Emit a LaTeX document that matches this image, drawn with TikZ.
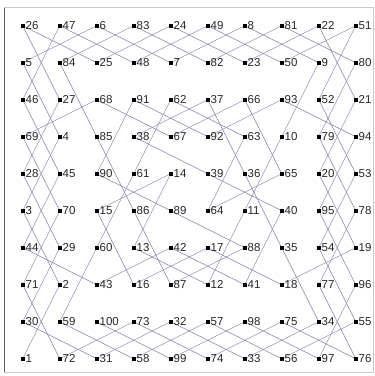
\documentclass[tikz,border=0pt]{standalone}
\usepackage{fontspec}
\setmainfont{Liberation Sans}
\usetikzlibrary{backgrounds}
\definecolor{tourline}{RGB}{135,135,175}
\definecolor{framelight}{RGB}{200,200,200}
\definecolor{framedark}{RGB}{90,90,90}
\tikzset{
  mk/.style={fill=black, draw=none, rectangle, minimum size=4pt, inner sep=0pt},
  lbl/.style={anchor=west, inner sep=0pt, font=\fontsize{11.5pt}{12pt}\selectfont, text=black!85},
  tour/.style={draw=tourline, line width=0.5pt},
}
\begin{document}
\begin{tikzpicture}[x=1pt,y=-1pt]
\useasboundingbox (0,0) rectangle (375,376);
\foreach \row [count=\i from 0] in {
 {26,47,6,83,24,49,8,81,22,51},
 {5,84,25,48,7,82,23,50,9,80},
 {46,27,68,91,62,37,66,93,52,21},
 {69,4,85,38,67,92,63,10,79,94},
 {28,45,90,61,14,39,36,65,20,53},
 {3,70,15,86,89,64,11,40,95,78},
 {44,29,60,13,42,17,88,35,54,19},
 {71,2,43,16,87,12,41,18,77,96},
 {30,59,100,73,32,57,98,75,34,55},
 {1,72,31,58,99,74,33,56,97,76}} {
  \foreach \v [count=\j from 0] in \row {
    \node[mk] (n\v) at ({22.7+37*\j},{25.7+37*\i}) {};
    \node[lbl] (t\v) at ([xshift=0.6pt]n\v.east) {\v};
  }
}
\begin{scope}[on background layer]
\fill[white] (0,0) rectangle (375,376);
\draw[framelight, line width=0.8pt] (4,7.5) -- (373,7.5) -- (373,372) -- (4,372);
\draw[framedark, line width=0.8pt] (4,7.5) -- (4,372);
\foreach \a [evaluate=\a as \b using int(\a+1)] in {1,...,99} {
  \draw[tour] (n\a.center) -- (n\b.center);
}
\end{scope}
\end{tikzpicture}
\end{document}
